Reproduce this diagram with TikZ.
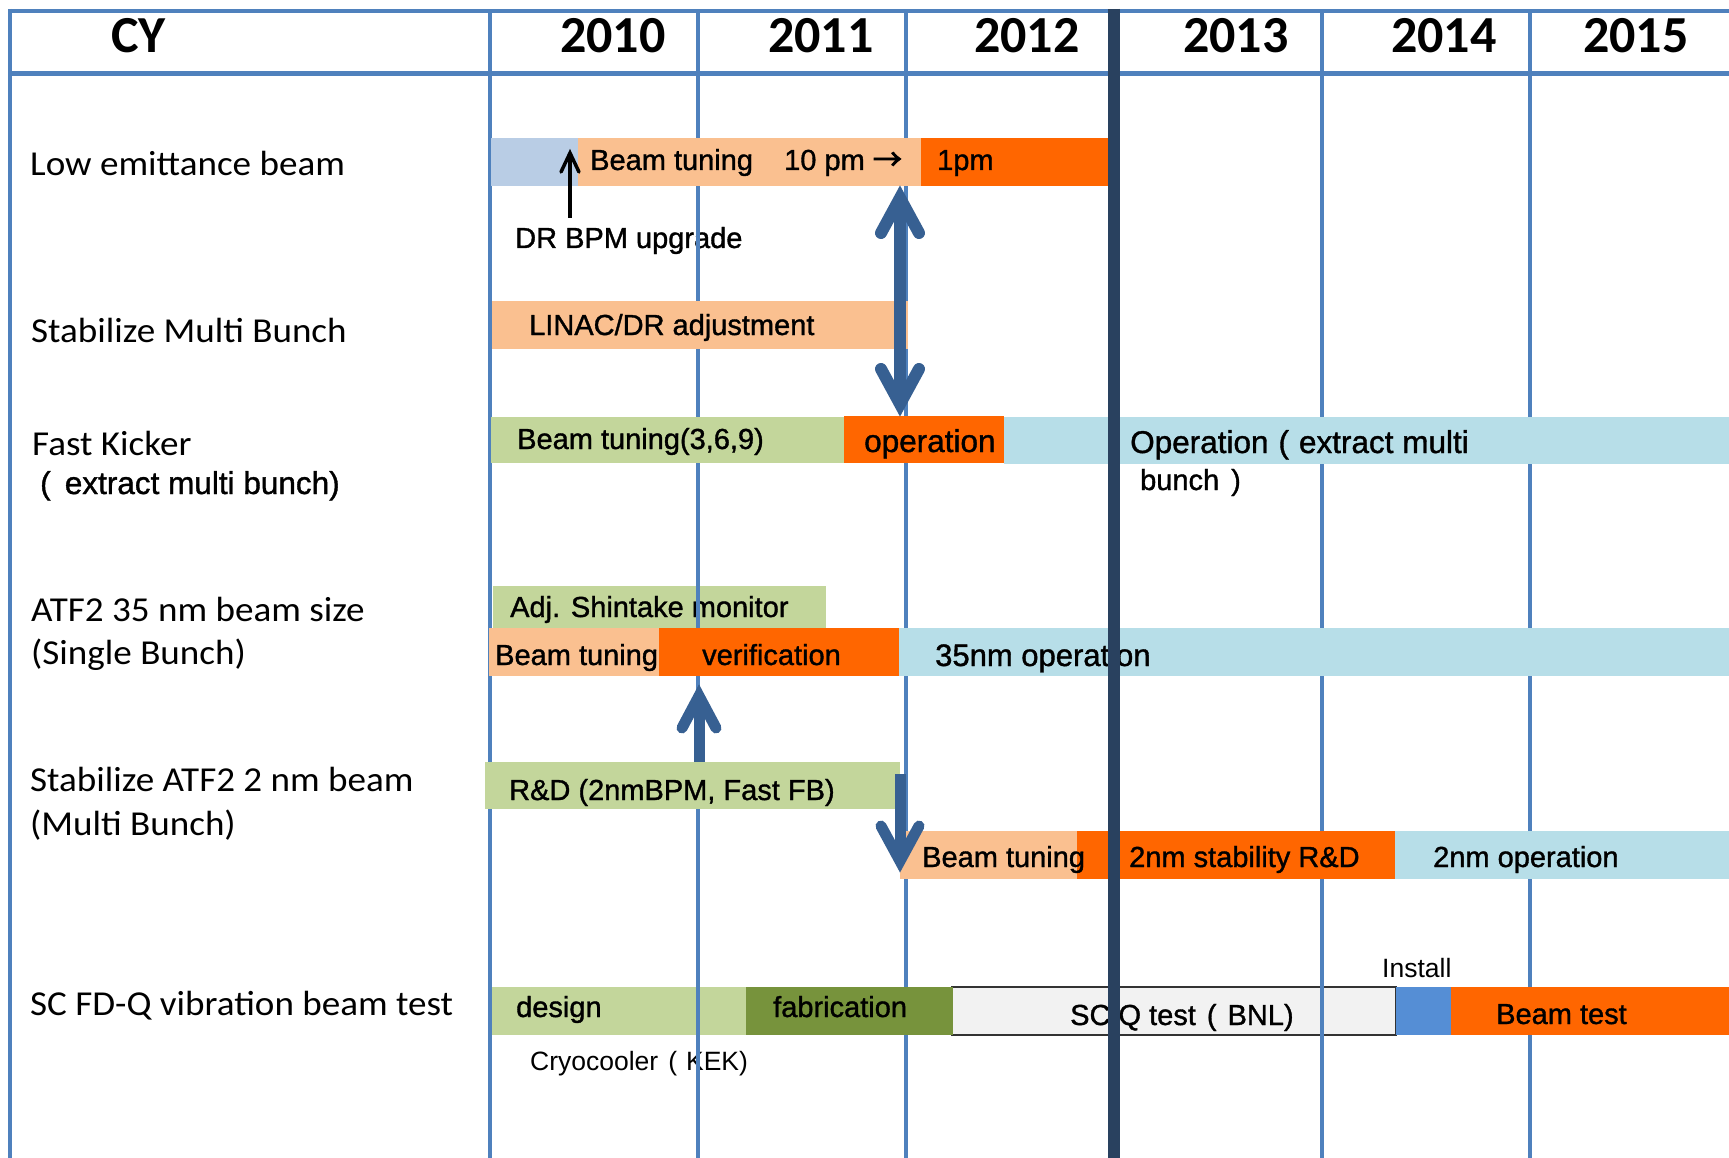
\documentclass[tikz,border=0pt]{standalone}
\usepackage{fontspec}
\setmainfont{Carlito}
\newfontfamily\lblf{Carlito}[FakeStretch=1.06]
\newfontfamily\arialf{Liberation Sans}[FakeBold=1.2]
\newfontfamily\arialthin{Liberation Sans}
\newfontfamily\cjkf{Noto Sans CJK JP}[FakeBold=3]
\usetikzlibrary{calc}
\definecolor{gridblue}{HTML}{4F81BD}
\definecolor{navyline}{HTML}{29415F}
\definecolor{arrowblue}{HTML}{376092}
\definecolor{lblue}{HTML}{B9CDE5}
\definecolor{peach}{HTML}{FAC090}
\definecolor{orng}{HTML}{FF6600}
\definecolor{lgreen}{HTML}{C3D69B}
\definecolor{cyanbar}{HTML}{B7DEE8}
\definecolor{dgreen}{HTML}{77933C}
\definecolor{instblue}{HTML}{558ED5}
\definecolor{boxgray}{HTML}{F2F2F2}
\begin{document}
\begin{tikzpicture}[x=1pt,y=-1pt,
  lbl/.style={anchor=base west, inner sep=0pt, font=\lblf\fontsize{35}{40}\selectfont},
  yr/.style={anchor=base west, inner sep=0pt, font=\bfseries\fontsize{52}{60}\selectfont},
  bartxt/.style={anchor=base west, inner sep=0pt, font=\arialf\fontsize{29}{32}\selectfont},
  bigtxt/.style={anchor=base west, inner sep=0pt, font=\arialf\fontsize{31.5}{34}\selectfont},
  smalltxt/.style={anchor=base west, inner sep=0pt, font=\arialthin\fontsize{26.5}{28}\selectfont},
  gridline/.style={draw=gridblue, line width=4pt},
  bigarrow/.style={draw=arrowblue, line width=12pt},
  midarrow/.style={draw=arrowblue, line width=11pt}]
\useasboundingbox (0,0) rectangle (1729,1158);
\fill[white] (0,0) rectangle (1729,1158);

% bars lying under the grid
\fill[lgreen] (493,586) rectangle (826,628);
\fill[lgreen] (492,987) rectangle (746,1035);
\filldraw[fill=boxgray, draw=black!80, line width=2pt] (952,987) rectangle (1396,1035);
\node[bartxt] (adj) at (510,617) {Adj. Shintake monitor};
\node[smalltxt] (cryo) at (530,1070) {Cryocooler\hspace{10pt}(\hspace{9pt}KEK)};
\node[bartxt] (bpm) at (515,248) {DR BPM upgrade};
\node[bartxt] (design) at (516,1017) {design};
\node[bartxt] (scq) at (1070,1025) {SC Q test\hspace{11pt}(\hspace{11pt}BNL)};

% grid
\draw[gridline] (10,9) -- (10,1158);
\draw[gridline] (8,11) -- (1729,11);
\draw[gridline, line width=5pt] (10,74) -- (1729,74);
\foreach \gx in {490,698,906,1322,1530} {\draw[gridline] (\gx,11) -- (\gx,1158);}

% header
\node[yr] (cy) at (111,53) {CY};
\node[yr] (y2010) at (560,53) {2010};
\node[yr] (y2011) at (768,53) {2011};
\node[yr] (y2012) at (974,53) {2012};
\node[yr] (y2013) at (1183,53) {2013};
\node[yr] (y2014) at (1391,53) {2014};
\node[yr] (y2015) at (1583,53) {2015};

% row labels
\node[lbl] (l1) at (30,176) {Low emittance beam};
\node[lbl] (l2) at (31,342) {Stabilize Multi Bunch};
\node[lbl] (l3) at (32,455) {Fast Kicker};
\node[bigtxt] (l3b) at (40,494) {(\hspace{0.45em}extract multi bunch)};
\node[lbl] (l4) at (31,621) {ATF2 35 nm beam size};
\node[lbl] (l4b) at (31,664) {(Single Bunch)};
\node[lbl] (l5) at (30,791) {Stabilize ATF2 2 nm beam};
\node[lbl] (l5b) at (30,835) {(Multi Bunch)};
\node[lbl] (l6) at (30,1015) {SC FD-Q vibration beam test};

% bars over the grid
\fill[lblue] (491,138) rectangle (578,186);
\fill[peach] (578,138) rectangle (921,186);
\fill[orng] (921,138) rectangle (1110,186);
\fill[peach] (492,301) rectangle (908,349);
\fill[lgreen] (491,417) rectangle (844,463);
\fill[orng] (844,416) rectangle (1004,463);
\fill[cyanbar] (1004,417) rectangle (1729,464);
\fill[peach] (489,628) rectangle (659,676);
\fill[orng] (659,628) rectangle (899,676);
\fill[cyanbar] (899,628) rectangle (1729,676);
\fill[lgreen] (485,762) rectangle (900,809);
\fill[peach] (900,831) rectangle (1077,879);
\fill[orng] (1077,831) rectangle (1395,879);
\fill[cyanbar] (1395,831) rectangle (1729,879);
\fill[dgreen] (746,987) rectangle (953,1035);
\fill[instblue] (1396,987) rectangle (1451,1035);
\fill[orng] (1451,987) rectangle (1729,1035);

% bar texts
\node[bartxt] (bt1) at (590,170) {Beam tuning};
\node[bartxt] (pm10) at (784,170) {10 pm {\cjkf →}};
\node[bartxt] (pm1) at (937,170) {1pm};
\node[bartxt] (linac) at (529,335) {LINAC/DR adjustment};
\node[bartxt] (bt369) at (517,449) {Beam tuning(3,6,9)};
\node[bigtxt] (op1) at (864,452) {operation};
\node[bigtxt] (opx) at (1130,453) {Operation\hspace{10pt}(\hspace{10pt}extract multi};
\node[bartxt] (bunch) at (1140,490) {bunch\hspace{12pt})};
\node[bartxt] (bt2) at (495,665) {Beam tuning};
\node[bartxt] (verif) at (702,665) {verification};
\node[bigtxt, font=\arialf\fontsize{31}{34}\selectfont] (op35) at (935,666) {35nm operation};
\node[bartxt] (rd) at (509,800) {R\&D (2nmBPM, Fast FB)};
\node[bartxt] (bt3) at (922,867) {Beam tuning};
\node[bartxt] (stab) at (1129,867) {2nm stability R\&D};
\node[bartxt] (op2) at (1433,867) {2nm operation};
\node[bartxt] (fab) at (773,1017) {fabrication};
\node[bartxt] (btest) at (1496,1024) {Beam test};
\node[smalltxt] (install) at (1382,977) {Install};

% black arrow
\coordinate (ka) at (570,218);
\coordinate (kb) at (570,153);
\draw[line width=3.5pt] (ka) -- (kb);
\draw[line width=3.5pt, line cap=round] ($(kb)+(-9,19)$) -- (kb) -- ($(kb)+(9,19)$);

% double arrow
\coordinate (da) at (900,198);
\coordinate (db) at (900,404);
\draw[bigarrow] (da) -- (db);
\draw[bigarrow, line cap=round] ($(da)+(-19,35)$) -- (da) -- ($(da)+(19,35)$);
\draw[bigarrow, line cap=round] ($(db)+(-19,-35)$) -- (db) -- ($(db)+(19,-35)$);

% up arrow
\coordinate (ua) at (699,696);
\coordinate (ub) at (699,762);
\draw[midarrow] (ub) -- (ua);
\draw[midarrow, line cap=round] ($(ua)+(-17,32)$) -- (ua) -- ($(ua)+(17,32)$);

% down arrow
\coordinate (dd1) at (900,774);
\coordinate (dd2) at (900,861);
\draw[midarrow] (dd1) -- (dd2);
\draw[midarrow, line cap=round] ($(dd2)+(-19,-35)$) -- (dd2) -- ($(dd2)+(19,-35)$);

% thick year divider
\draw[navyline, line width=12pt] (1114,9) -- (1114,1158);
\end{tikzpicture}
\end{document}
